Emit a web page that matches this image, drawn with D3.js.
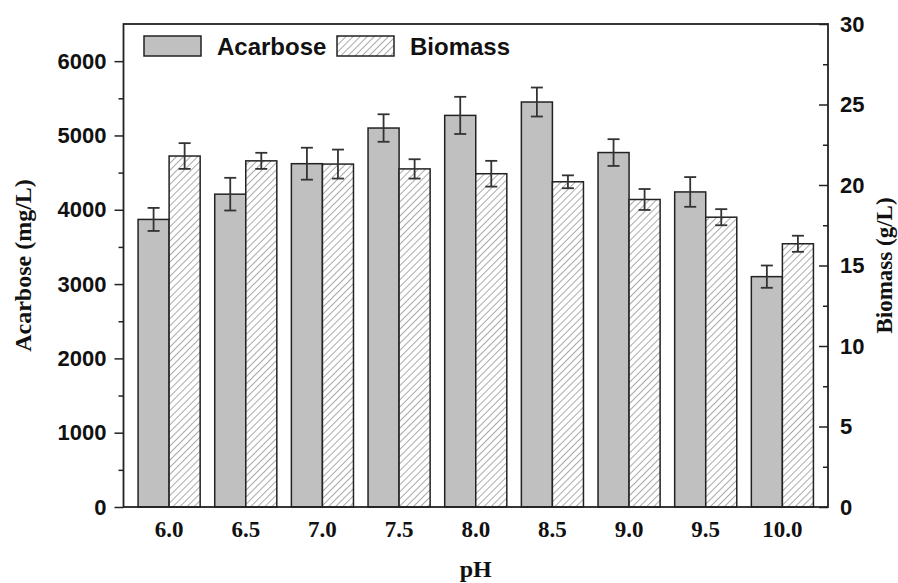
<!DOCTYPE html>
<html>
<head>
<meta charset="utf-8">
<script src="https://cdn.jsdelivr.net/npm/d3@7"></script>
<style>
  html, body { margin: 0; padding: 0; background: #fff; }
  svg { display: block; }
</style>
</head>
<body>
<svg id="chart" width="898" height="583"></svg>
<script>
// ---- data ----
const phLabels = ["6.0", "6.5", "7.0", "7.5", "8.0", "8.5", "9.0", "9.5", "10.0"];
const acarbose = [3870, 4210, 4620, 5100, 5270, 5450, 4770, 4240, 3100];
const acarboseErr = [155, 220, 215, 185, 250, 195, 180, 200, 150];
const biomass = [21.8, 21.5, 21.3, 21.0, 20.7, 20.2, 19.1, 18.0, 16.35];
const biomassErr = [0.8, 0.5, 0.9, 0.6, 0.8, 0.4, 0.65, 0.5, 0.5];
const leftMajorTicks = [0, 1000, 2000, 3000, 4000, 5000, 6000];
const leftMinorTicks = [500, 1500, 2500, 3500, 4500, 5500];
const rightMajorTicks = [0, 5, 10, 15, 20, 25, 30];
const rightMinorTicks = [2.5, 7.5, 12.5, 17.5, 22.5, 27.5];
const seriesNames = ["Acarbose", "Biomass"];

// ---- layout ----
const svg = d3.select("#chart");
const L = 123.5, R = 828, T = 24, B = 507;
const SANS = "'Liberation Sans', Arial, sans-serif";
const SERIF = "'Liberation Serif', 'Times New Roman', serif";
const INK = "#222";

const x = d3.scaleBand().domain(phLabels).range([L, R]).paddingInner(0.19).paddingOuter(0.19);
const xs = d3.scaleBand().domain(seriesNames).range([0, x.bandwidth()]);
const yL = d3.scaleLinear().domain([0, 6500]).range([B, T]);
const yR = d3.scaleLinear().domain([0, 30]).range([B, T]);

// hatch pattern
const defs = svg.append("defs");
const pat = defs.append("pattern").attr("id", "hatch").attr("patternUnits", "userSpaceOnUse")
  .attr("width", 5).attr("height", 5).attr("patternTransform", "rotate(45)");
pat.append("rect").attr("width", 5).attr("height", 5).attr("fill", "#fff");
pat.append("line").attr("x1", 0).attr("y1", 0).attr("x2", 0).attr("y2", 5)
  .attr("stroke", "#555").attr("stroke-width", 1);

const ACOL = "#c0c0c0";

// ---- bars ----
const g = svg.append("g");
g.selectAll("rect.ac").data(phLabels).join("rect").attr("class", "ac")
  .attr("x", d => x(d) + xs("Acarbose"))
  .attr("y", (d, i) => yL(acarbose[i]))
  .attr("width", xs.bandwidth())
  .attr("height", (d, i) => B - yL(acarbose[i]))
  .attr("fill", ACOL).attr("stroke", INK).attr("stroke-width", 1.5);

g.selectAll("rect.bm").data(phLabels).join("rect").attr("class", "bm")
  .attr("x", d => x(d) + xs("Biomass"))
  .attr("y", (d, i) => yR(biomass[i]))
  .attr("width", xs.bandwidth())
  .attr("height", (d, i) => B - yR(biomass[i]))
  .attr("fill", "url(#hatch)").attr("stroke", INK).attr("stroke-width", 1.5);

// ---- error bars ----
function errBars(serie, vals, errs, scale) {
  const eg = g.append("g").attr("stroke", "#333").attr("stroke-width", 1.8);
  phLabels.forEach((d, i) => {
    const cx = x(d) + xs(serie) + xs.bandwidth() / 2;
    const y1 = scale(vals[i] + errs[i]), y2 = scale(vals[i] - errs[i]);
    eg.append("line").attr("x1", cx).attr("x2", cx).attr("y1", y1).attr("y2", y2);
    eg.append("line").attr("x1", cx - 6).attr("x2", cx + 6).attr("y1", y1).attr("y2", y1);
    eg.append("line").attr("x1", cx - 6).attr("x2", cx + 6).attr("y1", y2).attr("y2", y2);
  });
}
errBars("Acarbose", acarbose, acarboseErr, yL);
errBars("Biomass", biomass, biomassErr, yR);

// ---- axes ----
function styleAxis(sel, fontFamily, fontSize) {
  sel.select(".domain").remove();
  sel.selectAll(".tick line").attr("stroke", INK).attr("stroke-width", 1.5);
  sel.selectAll(".tick text").attr("fill", "#111").attr("font-family", fontFamily)
    .attr("font-size", fontSize).attr("font-weight", "bold");
}

// left
const la1 = svg.append("g").attr("transform", `translate(${L},0)`)
  .call(d3.axisLeft(yL).tickValues(leftMinorTicks).tickSize(5).tickFormat(""));
styleAxis(la1, SANS, 22);
const la2 = svg.append("g").attr("transform", `translate(${L},0)`)
  .call(d3.axisLeft(yL).tickValues(leftMajorTicks).tickSize(9).tickPadding(8).tickFormat(d3.format("d")));
styleAxis(la2, SANS, 22);

// right
const ra1 = svg.append("g").attr("transform", `translate(${R},0)`)
  .call(d3.axisRight(yR).tickValues(rightMinorTicks).tickSize(-5).tickFormat(""));
styleAxis(ra1, SANS, 22);
const ra2 = svg.append("g").attr("transform", `translate(${R},0)`)
  .call(d3.axisRight(yR).tickValues(rightMajorTicks).tickSize(-9).tickPadding(12).tickFormat(d3.format("d")));
styleAxis(ra2, SANS, 22);

// bottom
const ba = svg.append("g").attr("transform", `translate(0,${B})`)
  .call(d3.axisBottom(x).tickSize(0).tickPadding(14));
styleAxis(ba, SERIF, 23);

// frame
svg.append("rect").attr("x", L).attr("y", T).attr("width", R - L).attr("height", B - T)
  .attr("fill", "none").attr("stroke", INK).attr("stroke-width", 1.8);

// axis titles
svg.append("text").attr("transform", `translate(31,${(T + B) / 2}) rotate(-90)`)
  .attr("text-anchor", "middle").attr("font-family", SERIF).attr("font-weight", "bold")
  .attr("font-size", 24).attr("fill", "#111").text("Acarbose (mg/L)");
svg.append("text").attr("transform", `translate(892,${(T + B) / 2}) rotate(-90)`)
  .attr("text-anchor", "middle").attr("font-family", SERIF).attr("font-weight", "bold")
  .attr("font-size", 23).attr("fill", "#111").text("Biomass (g/L)");
svg.append("text").attr("x", (L + R) / 2).attr("y", 577)
  .attr("text-anchor", "middle").attr("font-family", SERIF).attr("font-weight", "bold")
  .attr("font-size", 24).attr("fill", "#111").text("pH");

// legend
const legend = svg.append("g");
const legendItems = [
  { name: seriesNames[0], fill: ACOL, bx: 144, tx: 217 },
  { name: seriesNames[1], fill: "url(#hatch)", bx: 337, tx: 410 }
];
legendItems.forEach(it => {
  legend.append("rect").attr("x", it.bx).attr("y", 36).attr("width", 57).attr("height", 20)
    .attr("fill", it.fill).attr("stroke", INK).attr("stroke-width", 1.5);
  legend.append("text").attr("x", it.tx).attr("y", 55).attr("font-family", SANS)
    .attr("font-weight", "bold").attr("font-size", 24).attr("fill", "#111").text(it.name);
});
</script>
</body>
</html>
